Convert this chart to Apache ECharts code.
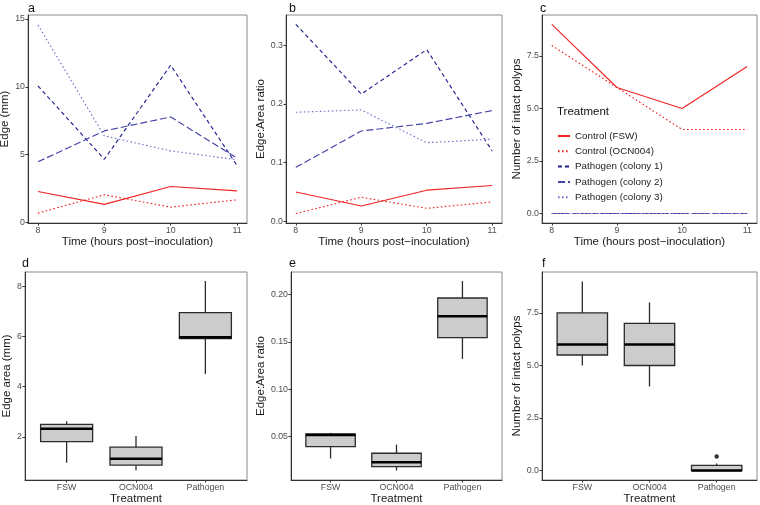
<!DOCTYPE html>
<html><head><meta charset="utf-8">
<script src="https://cdn.jsdelivr.net/npm/echarts@6/dist/echarts.min.js"></script>
<style>html,body{margin:0;padding:0;background:#fff}#c{width:760px;height:505px}</style>
</head><body><div id="c"></div>
<script>
// ---------- data ----------
const hours = [8, 9, 10, 11];
const seriesNames = ['Control (FSW)', 'Control (OCN004)', 'Pathogen (colony 1)', 'Pathogen (colony 2)', 'Pathogen (colony 3)'];
// panel a : Edge (mm)
const edgeFSW  = [2.28, 1.33, 2.65, 2.33];
const edgeOCN  = [0.69, 2.04, 1.13, 1.67];
const edgeCol1 = [10.07, 4.66, 11.6, 4.2];
const edgeCol2 = [4.47, 6.75, 7.78, 4.75];
const edgeCol3 = [14.56, 6.38, 5.28, 4.62];
// panel b : Edge:Area ratio
const ratioFSW  = [0.050, 0.026, 0.053, 0.061];
const ratioOCN  = [0.013, 0.041, 0.022, 0.033];
const ratioCol1 = [0.336, 0.217, 0.293, 0.120];
const ratioCol2 = [0.092, 0.154, 0.167, 0.189];
const ratioCol3 = [0.186, 0.190, 0.134, 0.140];
// panel c : Number of intact polyps
const polypsFSW  = [9, 6, 5, 7];
const polypsOCN  = [8, 6, 4, 4];
const polypsCol1 = [0, 0, 0, 0];
const polypsCol2 = [0, 0, 0, 0];
const polypsCol3 = [0, 0, 0, 0];
// box plots: [min, Q1, median, Q3, max]
const treatments = ['FSW', 'OCN004', 'Pathogen'];
const edgeAreaBoxes  = [[0.97, 1.81, 2.32, 2.50, 2.62], [0.66, 0.87, 1.13, 1.59, 2.03], [4.50, 5.92, 5.97, 6.95, 8.21]];
const ratioBoxes     = [[0.027, 0.0395, 0.0518, 0.0528, 0.054], [0.0143, 0.0185, 0.023, 0.0325, 0.0416], [0.132, 0.1545, 0.177, 0.1962, 0.214]];
const polypBoxes     = [[5, 5.5, 6, 7.5, 9], [4, 5, 6, 7, 8], [0, 0, 0, 0.25, 0.333]];
const polypOutliers  = [[3, 0.667]];
// tick labels
const hourTicks = [8, 9, 10, 11];
const edgeTicks = [0, 5, 10, 15];
const ratioTicks = [0, 0.1, 0.2, 0.3];
const polypTicks = [0, 2.5, 5, 7.5];
const edgeAreaTicks = [2, 4, 6, 8];
const ratioBoxTicks = [0.05, 0.10, 0.15, 0.20];
const treatmentTicks = [1, 2, 3];

// ---------- styling ----------
const FONT = 'Liberation Sans, Arial, sans-serif';
const lineStyles = [
  {color: '#f02424', type: 'solid'},
  {color: '#f02424', type: [1.6, 2.4]},
  {color: '#22228f', type: [4, 3]},
  {color: '#4343a8', type: [7, 3]},
  {color: '#7474cc', type: [1.6, 2.4]}
];
const grids = [
  {left: 28,  top: 15,  width: 219, height: 208},
  {left: 286, top: 15,  width: 216, height: 208},
  {left: 542, top: 15,  width: 215, height: 208},
  {left: 25,  top: 272, width: 222, height: 208},
  {left: 291, top: 272, width: 211, height: 208},
  {left: 542, top: 272, width: 215, height: 208}
].map(g => Object.assign({show: true, borderColor: '#8a8a8a', borderWidth: 1, backgroundColor: 'transparent', outerBoundsMode: 'none', containLabel: false}, g));

function axis(type, gridIndex, min, max, ticks, fmt, name, nameGap) {
  const isY = type === 'y';
  return {
    type: 'value', gridIndex, min, max,
    splitLine: {show: false},
    axisLine: {show: true, onZero: false, lineStyle: {color: '#333', width: 1}},
    axisTick: {show: true, length: 2.5, customValues: ticks, lineStyle: {color: '#333', width: 1}},
    axisLabel: {customValues: ticks, formatter: fmt, fontSize: 8.8, color: '#4d4d4d', margin: 3, fontFamily: FONT},
    name, nameLocation: 'middle', nameGap,
    nameRotate: isY ? 90 : 0,
    nameTextStyle: {fontSize: 11.5, color: '#1a1a1a', fontFamily: FONT}
  };
}
const fmt0 = v => String(v);
const fmt1 = v => v.toFixed(1);
const fmt2 = v => v.toFixed(2);
const fmtT = v => treatments[v - 1];
const timeName = 'Time (hours post\u2212inoculation)';

const xAxes = [
  axis('x', 0, 7.85, 11.15, hourTicks, fmt0, timeName, 13),
  axis('x', 1, 7.85, 11.15, hourTicks, fmt0, timeName, 13),
  axis('x', 2, 7.85, 11.15, hourTicks, fmt0, timeName, 13),
  axis('x', 3, 0.4, 3.6, treatmentTicks, fmtT, 'Treatment', 13),
  axis('x', 4, 0.4, 3.6, treatmentTicks, fmtT, 'Treatment', 13),
  axis('x', 5, 0.4, 3.6, treatmentTicks, fmtT, 'Treatment', 13)
];
const yAxes = [
  axis('y', 0, -0.04, 15.3, edgeTicks, fmt0, 'Edge (mm)', 13),
  axis('y', 1, -0.003, 0.352, ratioTicks, fmt1, 'Edge:Area ratio', 17),
  axis('y', 2, -0.45, 9.45, polypTicks, fmt1, 'Number of intact polyps', 19),
  axis('y', 3, 0.28, 8.57, edgeAreaTicks, fmt0, 'Edge area (mm)', 11),
  axis('y', 4, 0.0043, 0.2236, ratioBoxTicks, fmt2, 'Edge:Area ratio', 22),
  axis('y', 5, -0.45, 9.45, polypTicks, fmt1, 'Number of intact polyps', 19)
];

const series = [];
const panelLines = [
  [edgeFSW, edgeOCN, edgeCol1, edgeCol2, edgeCol3],
  [ratioFSW, ratioOCN, ratioCol1, ratioCol2, ratioCol3],
  [polypsFSW, polypsOCN, polypsCol1, polypsCol2, polypsCol3]
];
panelLines.forEach((arrs, gi) => {
  arrs.forEach((arr, si) => {
    series.push({
      type: 'line', name: seriesNames[si], xAxisIndex: gi, yAxisIndex: gi,
      data: hours.map((h, i) => [h, arr[i]]),
      symbol: 'none', showSymbol: false, silent: true,
      lineStyle: {color: lineStyles[si].color, type: lineStyles[si].type, width: 1.15},
      itemStyle: {color: lineStyles[si].color}
    });
  });
});

function boxSeries(gi, boxes) {
  return {
    type: 'custom', xAxisIndex: gi, yAxisIndex: gi, silent: true,
    data: boxes.map((b, i) => [treatmentTicks[i]].concat(b)),
    encode: {x: 0, y: [1, 2, 3, 4, 5]},
    renderItem(params, api) {
      const x = api.value(0);
      const w = api.size([0.75, 0])[0];
      const pMin = api.coord([x, api.value(1)]);
      const pQ1 = api.coord([x, api.value(2)]);
      const pMed = api.coord([x, api.value(3)]);
      const pQ3 = api.coord([x, api.value(4)]);
      const pMax = api.coord([x, api.value(5)]);
      const st = {stroke: '#2b2b2b', lineWidth: 1.3};
      return {type: 'group', children: [
        {type: 'line', shape: {x1: pMin[0], y1: pMin[1], x2: pQ1[0], y2: pQ1[1]}, style: st},
        {type: 'line', shape: {x1: pQ3[0], y1: pQ3[1], x2: pMax[0], y2: pMax[1]}, style: st},
        {type: 'rect', shape: {x: pQ3[0] - w / 2, y: pQ3[1], width: w, height: pQ1[1] - pQ3[1]}, style: {fill: '#cccccc', stroke: '#2b2b2b', lineWidth: 1.3}},
        {type: 'line', shape: {x1: pMed[0] - w / 2, y1: pMed[1], x2: pMed[0] + w / 2, y2: pMed[1]}, style: {stroke: '#000', lineWidth: 2.5}}
      ]};
    }
  };
}
series.push(boxSeries(3, edgeAreaBoxes));
series.push(boxSeries(4, ratioBoxes));
series.push(boxSeries(5, polypBoxes));
series.push({type: 'scatter', xAxisIndex: 5, yAxisIndex: 5, data: polypOutliers, symbol: 'circle', symbolSize: 4.5, itemStyle: {color: '#000'}, silent: true});

const letters = [['a', 28, 2], ['b', 289, 2], ['c', 540, 2], ['d', 22, 257], ['e', 289, 257], ['f', 542, 257]];
const titles = letters.map(([t, l, tp]) => ({text: t, left: l, top: tp, padding: 0, textStyle: {fontSize: 12.5, fontWeight: 'normal', color: '#111', fontFamily: FONT}}));
titles.push({text: 'Treatment', left: 557, top: 106, padding: 0, textStyle: {fontSize: 11.5, fontWeight: 'normal', color: '#111', fontFamily: FONT}});

const option = {
  animation: false,
  backgroundColor: '#fff',
  title: titles,
  grid: grids,
  xAxis: xAxes,
  yAxis: yAxes,
  legend: {
    orient: 'vertical', left: 557, top: 131, padding: 0, data: seriesNames,
    itemWidth: 12, itemHeight: 8, itemGap: 5.3, selectedMode: false,
    itemStyle: {opacity: 0, borderWidth: 0},
    textStyle: {fontSize: 9.8, color: '#222', fontFamily: FONT}
  },
  series
};
const chart = echarts.init(document.getElementById('c'), null, {renderer: 'canvas'});
chart.setOption(option);
</script>
</body></html>
